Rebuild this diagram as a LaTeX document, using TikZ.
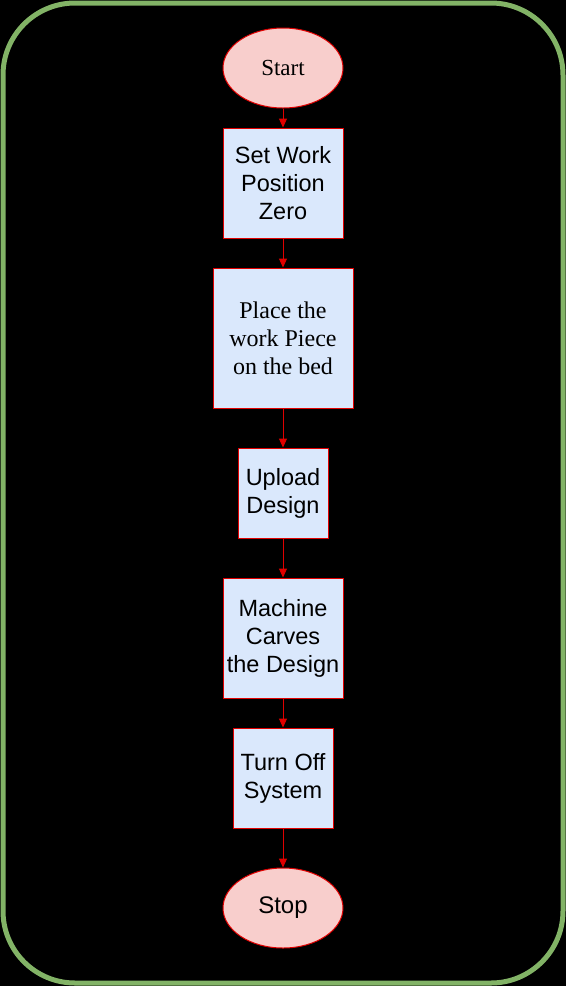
\documentclass[tikz,border=0pt]{standalone}
\usepackage{fontspec}
\setmainfont{Liberation Serif}
\setsansfont{Liberation Sans}
\usetikzlibrary{shapes.geometric,arrows.meta}
\definecolor{framegreen}{HTML}{82B366}
\definecolor{termfill}{HTML}{F8CECC}
\definecolor{boxfill}{HTML}{DAE8FC}
\definecolor{linered}{HTML}{E00000}
\tikzset{
  terminal/.style={ellipse,draw=linered,fill=termfill,line width=1pt,minimum width=120pt,minimum height=80pt,inner sep=0pt},
  procbox/.style={rectangle,draw=linered,fill=boxfill,line width=1pt,align=center,inner sep=0pt,font=\sffamily\fontsize{23.5}{28}\selectfont},
  flow/.style={draw=linered,line width=1pt,-{Triangle[length=9pt,width=8pt]}}
}
\begin{document}
\begin{tikzpicture}[x=1pt,y=-1pt]
      % Draw background and frame
      \useasboundingbox (0,0) rectangle (566,986);
      \fill[black] (0,0) rectangle (566,986);
      \draw[framegreen,line width=5pt,rounded corners=72pt] (3,3) rectangle (563,983);

      % Place the nodes
      \node[terminal,font=\rmfamily\fontsize{23}{24}\selectfont] (start) at (283,68) {Start};
      \node[procbox,minimum width=120pt,minimum height=110pt] (zero) at (283,183) {Set Work\\Position\\Zero};
      \node[procbox,minimum width=140pt,minimum height=140pt,font=\rmfamily\fontsize{24}{28}\selectfont] (place) at (283,338) {Place the\\work Piece\\on the bed};
      \node[procbox,minimum width=90pt,minimum height=90pt] (upload) at (283,493) {Upload\\Design};
      \node[procbox,minimum width=120pt,minimum height=120pt] (carve) at (283,638) {Machine\\Carves\\the Design};
      \node[procbox,minimum width=100pt,minimum height=100pt] (off) at (283,778) {Turn Off\\System};
      \node[terminal,font=\sffamily\fontsize{24}{24}\selectfont] (stop) at (283,908) {Stop};

      % Connect them
      \draw[flow] (start) -- (zero);
      \draw[flow] (zero) -- (place);
      \draw[flow] (place) -- (upload);
      \draw[flow] (upload) -- (carve);
      \draw[flow] (carve) -- (off);
      \draw[flow] (off) -- (stop);
\end{tikzpicture}
\end{document}
